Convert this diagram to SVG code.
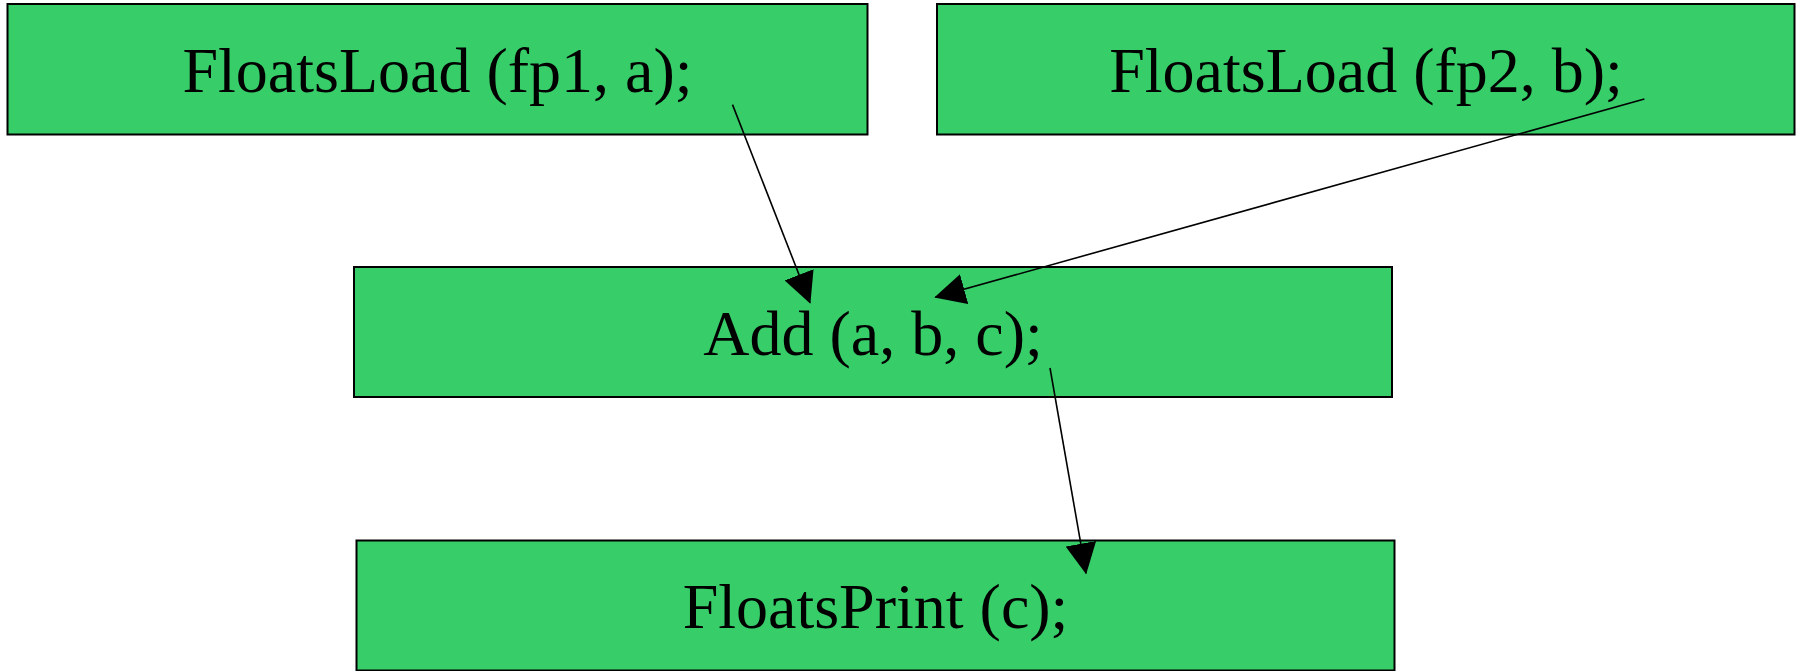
<svg xmlns="http://www.w3.org/2000/svg" width="1803" height="671" viewBox="0 0 1803 671">
<defs>
<style>
.box{fill:#37cd69;stroke:#000;stroke-width:2}
.lbl{font-family:"Liberation Serif","Times New Roman",serif;font-size:64px;fill:#000;text-anchor:middle}
.edge{stroke:#000;stroke-width:1.6;fill:none;marker-end:url(#ah)}
</style>
<marker id="ah" markerUnits="userSpaceOnUse" markerWidth="31" markerHeight="31" viewBox="0 0 30 30" refX="29" refY="15" orient="auto">
<path d="M0,0 L30,15 L0,30 z" fill="#000"/>
</marker>
</defs>
<rect width="1803" height="671" fill="#fff"/>
<g id="n1"><rect class="box" x="7.5" y="4" width="860" height="130.5"/><text class="lbl" x="437.5" y="92">FloatsLoad (fp1, a);</text></g>
<g id="n2"><rect class="box" x="937" y="4" width="857.5" height="130.5"/><text class="lbl" x="1366" y="92">FloatsLoad (fp2, b);</text></g>
<g id="n3"><rect class="box" x="354" y="267" width="1038" height="130"/><text class="lbl" x="873" y="355">Add (a, b, c);</text></g>
<g id="n4"><rect class="box" x="356.5" y="540.5" width="1038" height="130"/><text class="lbl" x="875.5" y="628">FloatsPrint (c);</text></g>
<g id="edges">
<line class="edge" x1="732.5" y1="104.6" x2="810" y2="302.7"/>
<line class="edge" x1="1644.4" y1="98.9" x2="935.3" y2="297.3"/>
<line class="edge" x1="1050" y1="368" x2="1086" y2="573.3"/>
</g>
</svg>
